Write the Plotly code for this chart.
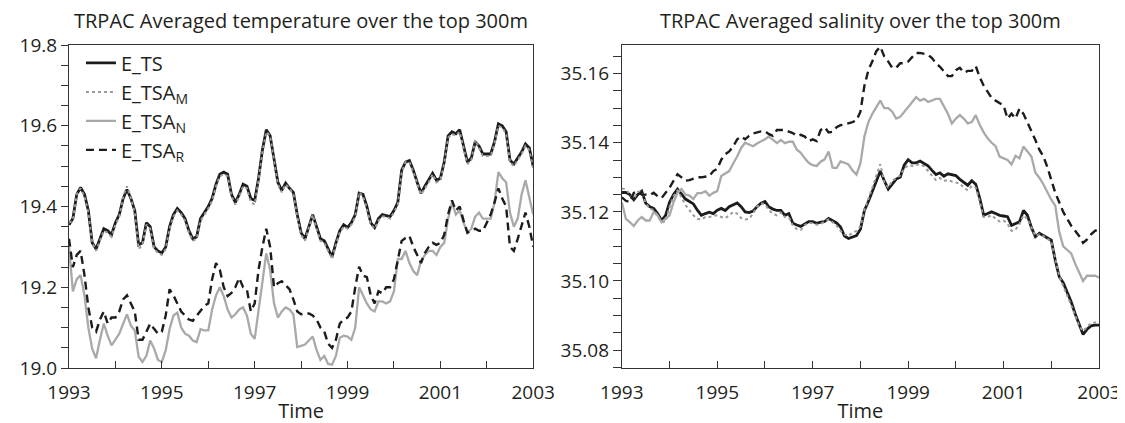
import plotly.graph_objects as go

# ---------------- data (monthly, Jan 1993 .. Jan 2003) ----------------
n_months = 121
time = [1993 + i / 12 for i in range(n_months)]

tick_years = [1993, 1995, 1997, 1999, 2001, 2003]
tick_labels = ["1993", "1995", "1997", "1999", "2001", "2003"]

# Temperature (left panel)
t_E_TS = [
    19.355, 19.37, 19.43, 19.447, 19.43, 19.39, 19.31, 19.295, 19.32, 19.345, 19.34, 19.33,
    19.36, 19.38, 19.42, 19.442, 19.42, 19.39, 19.305, 19.31, 19.36, 19.35, 19.30, 19.29,
    19.285, 19.30, 19.35, 19.38, 19.395, 19.385, 19.37, 19.34, 19.32, 19.325, 19.37, 19.385,
    19.40, 19.42, 19.455, 19.48, 19.485, 19.48, 19.43, 19.41, 19.43, 19.455, 19.45, 19.42,
    19.415, 19.47, 19.54, 19.59, 19.575, 19.518, 19.46, 19.44, 19.458, 19.445, 19.435, 19.38,
    19.335, 19.32, 19.35, 19.38, 19.35, 19.32, 19.315, 19.295, 19.275, 19.31, 19.34, 19.355,
    19.348, 19.36, 19.38, 19.433, 19.43, 19.40, 19.36, 19.348, 19.37, 19.38, 19.378, 19.375,
    19.39, 19.41, 19.49, 19.51, 19.514, 19.49, 19.46, 19.433, 19.45, 19.465, 19.482, 19.465,
    19.47, 19.51, 19.575, 19.585, 19.58, 19.59, 19.55, 19.51, 19.52, 19.56, 19.55, 19.53,
    19.53, 19.53, 19.56, 19.605, 19.60, 19.585, 19.515, 19.505, 19.52, 19.535, 19.555, 19.545,
    19.50,
]
t_E_TSA_M = [
    19.36, 19.365, 19.43, 19.445, 19.425, 19.385, 19.31, 19.29, 19.315, 19.34, 19.335, 19.325,
    19.355, 19.375, 19.425, 19.45, 19.42, 19.385, 19.295, 19.305, 19.355, 19.345, 19.295, 19.285,
    19.28, 19.295, 19.345, 19.375, 19.39, 19.38, 19.365, 19.335, 19.315, 19.32, 19.365, 19.38,
    19.395, 19.415, 19.45, 19.475, 19.48, 19.475, 19.425, 19.405, 19.425, 19.45, 19.445, 19.41,
    19.405, 19.465, 19.535, 19.585, 19.575, 19.515, 19.455, 19.435, 19.455, 19.445, 19.43, 19.375,
    19.33, 19.315, 19.345, 19.38, 19.345, 19.315, 19.31, 19.29, 19.27, 19.305, 19.335, 19.35,
    19.345, 19.355, 19.375, 19.435, 19.425, 19.395, 19.355, 19.345, 19.365, 19.375, 19.375, 19.37,
    19.385, 19.405, 19.485, 19.51, 19.51, 19.485, 19.455, 19.43, 19.445, 19.46, 19.48, 19.46,
    19.465, 19.505, 19.57, 19.58, 19.575, 19.585, 19.545, 19.505, 19.515, 19.565, 19.545, 19.525,
    19.525, 19.525, 19.555, 19.60, 19.595, 19.58, 19.51, 19.50, 19.515, 19.53, 19.55, 19.54,
    19.495,
]
t_E_TSA_N = [
    19.30, 19.19, 19.22, 19.23, 19.18, 19.10, 19.048, 19.024, 19.07, 19.11, 19.08, 19.056,
    19.07, 19.085, 19.11, 19.133, 19.105, 19.093, 19.028, 19.015, 19.03, 19.068, 19.048, 19.02,
    19.015, 19.044, 19.096, 19.13, 19.137, 19.10, 19.085, 19.08, 19.068, 19.064, 19.096, 19.093,
    19.093, 19.145, 19.18, 19.20, 19.178, 19.145, 19.125, 19.133, 19.145, 19.15, 19.13, 19.085,
    19.072, 19.145, 19.22, 19.284, 19.243, 19.16, 19.125, 19.14, 19.15, 19.145, 19.133, 19.052,
    19.055, 19.058, 19.068, 19.078, 19.045, 19.02, 19.03, 19.01, 19.008, 19.03, 19.075, 19.08,
    19.078, 19.07, 19.10, 19.20, 19.18, 19.16, 19.145, 19.14, 19.165, 19.165, 19.16, 19.165,
    19.19, 19.27, 19.27, 19.29, 19.26, 19.24, 19.23, 19.265, 19.28, 19.29, 19.29, 19.28,
    19.30, 19.31, 19.37, 19.41, 19.38, 19.39, 19.36, 19.335, 19.345, 19.375, 19.385, 19.37,
    19.37, 19.37, 19.41, 19.485, 19.47, 19.46, 19.385, 19.35, 19.37, 19.43, 19.465, 19.42,
    19.38,
]
t_E_TSA_R = [
    19.32, 19.25, 19.28, 19.29, 19.23, 19.15, 19.10, 19.09, 19.12, 19.14, 19.11, 19.125,
    19.125, 19.14, 19.17, 19.18, 19.16, 19.14, 19.07, 19.07, 19.09, 19.11, 19.097, 19.085,
    19.09, 19.13, 19.195, 19.18, 19.16, 19.14, 19.13, 19.12, 19.117, 19.13, 19.14, 19.154,
    19.16, 19.22, 19.26, 19.243, 19.20, 19.178, 19.186, 19.20, 19.223, 19.20, 19.194, 19.14,
    19.16, 19.243, 19.30, 19.345, 19.30, 19.20, 19.21, 19.215, 19.205, 19.195, 19.17, 19.14,
    19.133, 19.135, 19.135, 19.13, 19.12, 19.10, 19.09, 19.06, 19.05, 19.07, 19.11, 19.12,
    19.125, 19.14, 19.20, 19.251, 19.229, 19.225, 19.18, 19.16, 19.19, 19.185, 19.20, 19.20,
    19.22, 19.27, 19.315, 19.322, 19.327, 19.30, 19.28, 19.26, 19.285, 19.30, 19.31, 19.305,
    19.31, 19.33, 19.38, 19.415, 19.39, 19.40, 19.365, 19.335, 19.34, 19.345, 19.34, 19.34,
    19.36, 19.38, 19.41, 19.445, 19.42, 19.40, 19.30, 19.29, 19.32, 19.35, 19.385, 19.35,
    19.30,
]

# Salinity (right panel)
s_E_TS = [
    35.1256, 35.1256, 35.125, 35.1235, 35.125, 35.126, 35.1225, 35.1215, 35.121, 35.1195, 35.1175, 35.119,
    35.1228, 35.125, 35.1266, 35.125, 35.1237, 35.123, 35.1223, 35.1205, 35.119, 35.1195, 35.1199, 35.1195,
    35.1205, 35.121, 35.1204, 35.1215, 35.122, 35.1226, 35.1215, 35.120, 35.1198, 35.1202, 35.1215, 35.1225,
    35.123, 35.1214, 35.1208, 35.1204, 35.1204, 35.119, 35.1195, 35.1167, 35.1162, 35.1158, 35.1165, 35.1172,
    35.1172, 35.1167, 35.117, 35.1172, 35.1181, 35.1175, 35.1168, 35.1156, 35.113, 35.1123, 35.1127, 35.1131,
    35.115, 35.1204, 35.123, 35.126, 35.129, 35.1318, 35.129, 35.1266, 35.128, 35.1295, 35.130, 35.1335,
    35.1351, 35.1342, 35.1342, 35.1347, 35.134, 35.1333, 35.132, 35.1308, 35.1313, 35.1303, 35.131, 35.1308,
    35.1305, 35.1294, 35.1285, 35.1277, 35.129, 35.128, 35.124, 35.119, 35.1195, 35.120, 35.1195, 35.119,
    35.1188, 35.1186, 35.1161, 35.1166, 35.1171, 35.1204, 35.119, 35.1155, 35.1128, 35.1138, 35.1132, 35.1125,
    35.1118, 35.106, 35.1012, 35.0995, 35.097, 35.094, 35.0905, 35.0875, 35.0845, 35.086, 35.087, 35.0872,
    35.0872,
]
s_E_TSA_M = [
    35.1268, 35.1265, 35.1252, 35.1238, 35.1258, 35.1258, 35.1225, 35.121, 35.1205, 35.1188, 35.117, 35.1172,
    35.1215, 35.1245, 35.1262, 35.1242, 35.122, 35.1205, 35.119, 35.118, 35.1178, 35.1185, 35.1185, 35.1188,
    35.119, 35.1185, 35.1182, 35.119, 35.120, 35.1195, 35.1182, 35.1178, 35.118, 35.1195, 35.1215, 35.1225,
    35.1222, 35.1205, 35.1195, 35.119, 35.1198, 35.1185, 35.1185, 35.116, 35.115, 35.1148, 35.1162, 35.1168,
    35.1168, 35.1163, 35.1165, 35.1172, 35.1178, 35.117, 35.116, 35.1145, 35.1135, 35.113, 35.114, 35.1145,
    35.1158, 35.1205, 35.1235, 35.127, 35.1305, 35.1338, 35.1285, 35.127, 35.129, 35.1298, 35.1305, 35.1325,
    35.1335, 35.1333, 35.1335, 35.1338, 35.1332, 35.132, 35.1305, 35.1292, 35.1298, 35.129, 35.1292, 35.1288,
    35.1285, 35.1282, 35.127, 35.1262, 35.1275, 35.127, 35.123, 35.1185, 35.1185, 35.119, 35.118, 35.1172,
    35.1175, 35.1165, 35.1145, 35.1148, 35.1165, 35.119, 35.118, 35.1155, 35.113, 35.1135, 35.113, 35.1122,
    35.1115, 35.1065, 35.1015, 35.0985, 35.096, 35.093, 35.090, 35.087, 35.0855, 35.0868, 35.0878, 35.088,
    35.088,
]
s_E_TSA_N = [
    35.1228, 35.118, 35.117, 35.1159, 35.1175, 35.1185, 35.1175, 35.1175, 35.120, 35.119, 35.117, 35.118,
    35.119, 35.1228, 35.1255, 35.1266, 35.125, 35.1247, 35.1237, 35.1254, 35.1254, 35.126, 35.1247, 35.1255,
    35.126, 35.1304, 35.131, 35.1318, 35.134, 35.136, 35.1385, 35.140, 35.1395, 35.139, 35.1398, 35.1403,
    35.141, 35.1418, 35.1408, 35.1399, 35.1408, 35.1399, 35.1403, 35.1403, 35.138, 35.1371, 35.1355, 35.1342,
    35.1335, 35.1333, 35.1345, 35.1352, 35.1375, 35.1328, 35.1327, 35.1346, 35.1342, 35.1337, 35.132, 35.1308,
    35.134, 35.1418, 35.146, 35.1484, 35.1503, 35.1522, 35.150, 35.150, 35.149, 35.147, 35.1475, 35.149,
    35.1503, 35.1518, 35.1532, 35.1522, 35.1527, 35.1518, 35.1522, 35.1527, 35.1527, 35.1505, 35.1484, 35.1456,
    35.147, 35.148, 35.147, 35.1456, 35.146, 35.148, 35.1452, 35.143, 35.1413, 35.140, 35.139, 35.136,
    35.1355, 35.135, 35.1337, 35.1362, 35.1355, 35.1389, 35.1375, 35.136, 35.1313, 35.1299, 35.128, 35.1256,
    35.1235, 35.1218, 35.1142, 35.110, 35.109, 35.108, 35.105, 35.1025, 35.100, 35.1015, 35.1015, 35.1015,
    35.101,
]
s_E_TSA_R = [
    35.1242, 35.1232, 35.1228, 35.1255, 35.126, 35.125, 35.125, 35.1248, 35.1255, 35.1245, 35.124, 35.1255,
    35.127, 35.129, 35.1309, 35.130, 35.129, 35.1292, 35.1295, 35.130, 35.130, 35.1302, 35.1304, 35.1318,
    35.1325, 35.1351, 35.1367, 35.1375, 35.1389, 35.141, 35.1418, 35.141, 35.142, 35.1427, 35.143, 35.1433,
    35.1433, 35.1425, 35.142, 35.1437, 35.1437, 35.1437, 35.1432, 35.1428, 35.142, 35.1423, 35.1418, 35.1405,
    35.141, 35.1405, 35.1437, 35.1445, 35.143, 35.1432, 35.1445, 35.1451, 35.1453, 35.1456, 35.146, 35.1465,
    35.149, 35.1565, 35.161, 35.1636, 35.1665, 35.1678, 35.165, 35.1635, 35.1617, 35.1617, 35.163, 35.163,
    35.1635, 35.1648, 35.166, 35.166, 35.1658, 35.1655, 35.1645, 35.163, 35.162, 35.1608, 35.1593, 35.1593,
    35.161, 35.1617, 35.1603, 35.1608, 35.1608, 35.1622, 35.159, 35.1565, 35.1546, 35.153, 35.1522, 35.1515,
    35.1508, 35.147, 35.1484, 35.147, 35.1499, 35.1484, 35.146, 35.1437, 35.1408, 35.138, 35.1361, 35.133,
    35.1294, 35.1255, 35.1228, 35.120, 35.118, 35.116, 35.1145, 35.113, 35.111, 35.112, 35.1135, 35.1145,
    35.115,
]

series_names = ["E_TS", "E_TSA<sub>M</sub>", "E_TSA<sub>N</sub>", "E_TSA<sub>R</sub>"]
titles = ["TRPAC Averaged temperature over the top 300m",
          "TRPAC Averaged salinity over the top 300m"]

# ---------------- styles ----------------
FONT = "Open Sans"
TXT = "#231f20"
AX = "#333333"
styles = [
    dict(color="#1c1c1c", width=2.8, dash="solid"),
    dict(color="#9a9a9a", width=2.0, dash="dot"),
    dict(color="#a9a9a9", width=2.3, dash="solid"),
    dict(color="#1c1c1c", width=2.4, dash="8px,5px"),
]

fig = go.Figure()
left = [t_E_TS, t_E_TSA_M, t_E_TSA_N, t_E_TSA_R]
right = [s_E_TS, s_E_TSA_M, s_E_TSA_N, s_E_TSA_R]
for k in range(4):
    fig.add_trace(go.Scatter(x=time, y=left[k], mode="lines", name=series_names[k],
                             line=styles[k], xaxis="x", yaxis="y", showlegend=True))
for k in range(4):
    fig.add_trace(go.Scatter(x=time, y=right[k], mode="lines", name=series_names[k],
                             line=styles[k], xaxis="x2", yaxis="y2", showlegend=False))

W, H = 1125, 423
ml, mr, mt, mb = 61, 30, 37, 58
pw = W - ml - mr

axis_common = dict(showline=True, linecolor=AX, linewidth=1, mirror=True,
                   showgrid=False, zeroline=False,
                   tickfont=dict(family=FONT, size=19, color=TXT))
xcommon = dict(axis_common, range=[1993, 2003], tickmode="array",
               tickvals=tick_years, ticktext=tick_labels,
               ticks="inside", ticklen=7, tickcolor=AX, ticklabelstandoff=7,
               minor=dict(tick0=1993, dtick=1, ticks="inside", ticklen=7, tickcolor=AX,
                          showgrid=False),
               title=dict(text="Time", font=dict(family=FONT, size=20, color=TXT), standoff=0))

fig.update_layout(
    width=W, height=H,
    margin=dict(l=ml, r=mr, t=mt, b=mb),
    paper_bgcolor="white", plot_bgcolor="white",
    xaxis=dict(xcommon, domain=[0, (527 - ml) / pw], anchor="y"),
    xaxis2=dict(xcommon, domain=[(616 - ml) / pw, 1], anchor="y2"),
    yaxis=dict(axis_common, range=[19.0, 19.8], tick0=19.0, dtick=0.2, tickformat=".1f",
               ticks="outside", ticklen=7, tickcolor=AX, anchor="x",
               minor=dict(tick0=19.0, dtick=0.05, ticks="outside", ticklen=7, tickcolor=AX)),
    yaxis2=dict(axis_common, range=[35.0748, 35.1683], tick0=35.08, dtick=0.02, tickformat=".2f",
                ticks="outside", ticklen=8, tickcolor=AX, anchor="x2",
                minor=dict(tick0=35.08, dtick=0.005, ticks="outside", ticklen=8, tickcolor=AX)),
    legend=dict(x=(73 - ml) / pw, y=1.005, xanchor="left", yanchor="top",
                bgcolor="rgba(0,0,0,0)", font=dict(family=FONT, size=20, color=TXT),
                tracegroupgap=0),
    font=dict(family=FONT, color=TXT),
    annotations=[
        dict(text=titles[0], x=((527 + 61) / 2 - ml) / pw, y=1, xref="paper", yref="paper",
             xanchor="center", yanchor="bottom", yshift=9, showarrow=False,
             font=dict(family=FONT, size=20, color=TXT)),
        dict(text=titles[1], x=((616 + 1095) / 2 - ml) / pw, y=1, xref="paper", yref="paper",
             xanchor="center", yanchor="bottom", yshift=9, showarrow=False,
             font=dict(family=FONT, size=20, color=TXT)),
    ],
)

fig.write_html("out.html")
